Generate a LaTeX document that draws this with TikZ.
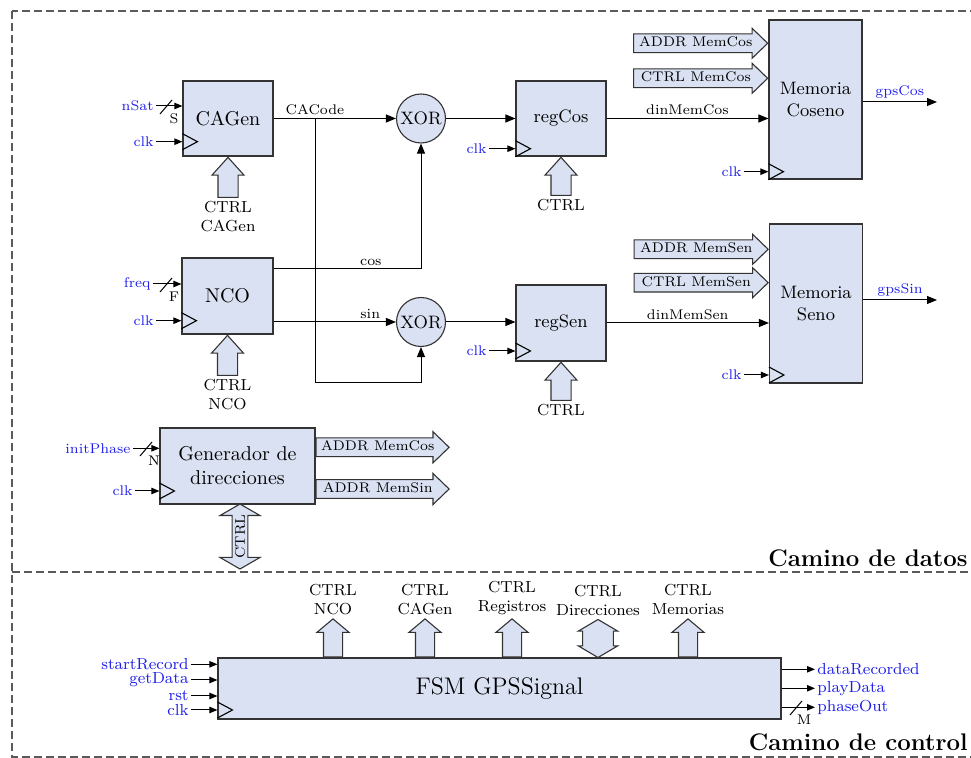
\documentclass[tikz,border=0pt]{standalone}
\usepackage{tikz}
\usetikzlibrary{arrows.meta,shapes.arrows}
\definecolor{blockfill}{RGB}{218,225,242}
\definecolor{sigblue}{RGB}{30,30,235}
\definecolor{framegray}{RGB}{90,90,90}

\begin{document}
\begin{tikzpicture}[x=0.5pt, y=-0.5pt, every node/.style={font=\scriptsize},
  block/.style={draw=black!80, fill=blockfill, line width=0.55pt, align=center, inner sep=0pt},
  xorgate/.style={circle, draw=black!80, fill=blockfill, line width=0.55pt, minimum size=24.5pt, inner sep=0pt, font=\small},
  sig/.style={-{Triangle[length=4pt,width=3.2pt]}, line width=0.5pt},
  dat/.style={-{Triangle[length=5pt,width=4pt]}, line width=0.5pt},
  inlbl/.style={text=sigblue, anchor=east, inner sep=1pt},
  outlbl/.style={text=sigblue, anchor=west, inner sep=1pt, font=\footnotesize},
  lbl/.style={inner sep=1.5pt},
  ctllbl/.style={inner sep=1.5pt, align=center, font=\footnotesize},
  busr/.style={single arrow, draw=black!80, fill=blockfill, line width=0.55pt, single arrow head extend=2.8pt, single arrow tip angle=88, minimum width=14.5pt, minimum height=67pt, inner xsep=0pt, inner ysep=1.4pt, text height=4.8pt, text depth=1.2pt},
  busup/.style={single arrow, rotate=90, draw=black!80, fill=blockfill, line width=0.55pt, single arrow head extend=3pt, single arrow tip angle=84, minimum width=15.5pt, minimum height=20pt, inner xsep=0pt, inner ysep=4.75pt},
  fsmup/.style={busup, single arrow head extend=3.25pt, single arrow tip angle=100, minimum height=19pt, inner ysep=4.5pt},
  dbus/.style={double arrow, rotate=90, draw=black!80, fill=blockfill, line width=0.55pt, double arrow head extend=6pt, double arrow tip angle=120, minimum width=20pt, minimum height=32.5pt, inner xsep=0.5pt, inner ysep=1.2pt, text height=4.8pt, text depth=0pt},
  dashframe/.style={draw=framegray, line width=0.6pt, dash pattern=on 4pt off 2pt},
  clock/.pic={\draw[line width=0.55pt] (0,-8) -- (15,0) -- (0,8);},
  buswidth/.pic={\draw[line width=0.5pt] (-6,7) -- (6,-7); \node[inner sep=0pt] at (8,12) {\tikzpictext};}]
\useasboundingbox (0,0) rectangle (971,758);

% frame
\draw[dashframe] (12,11) rectangle (985,757);
\draw[dashframe] (12,572) -- (968,572);
\node[font=\large\bfseries, anchor=base east, inner sep=0pt] (datos) at (968,567) {Camino de datos};
\node[font=\large\bfseries, anchor=base east, inner sep=0pt] (control) at (968,751) {Camino de control};

% blocks
\node[block, minimum width=45pt, minimum height=37.5pt, font=\normalsize] (cagen) at (228,118.5) {CAGen};
\node[block, minimum width=45.5pt, minimum height=38pt, font=\normalsize] (nco) at (227.5,296) {NCO};
\node[block, minimum width=45pt, minimum height=37.5pt, font=\small] (regcos) at (561,118.5) {regCos};
\node[block, minimum width=45pt, minimum height=38pt, font=\small] (regsen) at (561,323) {regSen};
\node[block, minimum width=46.5pt, minimum height=79.5pt, font=\small] (memcos) at (815.5,99.5) {Memoria\\Coseno};
\node[block, minimum width=46.5pt, minimum height=79.5pt, font=\small] (memsen) at (816,303.5) {Memoria\\Seno};
\node[block, minimum width=77.5pt, minimum height=38pt, font=\normalsize] (gen) at (237.5,466) {Generador de\\direcciones};
\node[block, minimum width=281.5pt, minimum height=30.5pt, font=\large] (fsm) at (499.5,688.5) {FSM GPSSignal};
\node[xorgate] (xor1) at (421,118.5) {XOR};
\node[xorgate] (xor2) at (421,322) {XOR};

% inputs
\node[inlbl] (nsat) at (156,106) {nSat};
\draw[sig] (nsat.east) -- (nsat -| cagen.west);
\pic[pic text=S] at (166,107) {buswidth};
\node[inlbl] (clka) at (156,141.7) {clk};
\draw[sig] (clka.east) -- (clka -| cagen.west);
\pic at (clka -| cagen.west) {clock};
\node[inlbl] (freq) at (153,284) {freq};
\draw[sig] (freq.east) -- (freq -| nco.west);
\pic[pic text=F] at (166,285) {buswidth};
\node[inlbl] (clkb) at (156,320.7) {clk};
\draw[sig] (clkb.east) -- (clkb -| nco.west);
\pic at (clkb -| nco.west) {clock};
\node[inlbl] (clkc) at (489,148.7) {clk};
\draw[sig] (clkc.east) -- (clkc -| regcos.west);
\pic at (clkc -| regcos.west) {clock};
\node[inlbl] (clkd) at (489,351) {clk};
\draw[sig] (clkd.east) -- (clkd -| regsen.west);
\pic at (clkd -| regsen.west) {clock};
\node[inlbl] (clke) at (744,171.7) {clk};
\draw[sig] (clke.east) -- (clke -| memcos.west);
\pic at (clke -| memcos.west) {clock};
\node[inlbl] (clkf) at (744,375) {clk};
\draw[sig] (clkf.east) -- (clkf -| memsen.west);
\pic at (clkf -| memsen.west) {clock};
\node[inlbl] (phase) at (133,448.3) {initPhase};
\draw[sig] (phase.east) -- (phase -| gen.west);
\pic[pic text=N] at (146,449) {buswidth};
\node[inlbl] (clkg) at (135,491) {clk};
\draw[sig] (clkg.east) -- (clkg -| gen.west);
\pic at (clkg -| gen.west) {clock};

% data path
\coordinate (cabr) at (315,118.5);
\coordinate (cabot) at (315,383);
\draw[dat] (cagen.east) -- (xor1.west);
\node[lbl, anchor=south] (cacode) at (cabr) {CACode};
\draw[dat] (cabr) -- (cabot) -| (xor2.south);
\coordinate (cosout) at (nco.east |- 0,269);
\draw[dat] (cosout) -| node[lbl, above, pos=0.33] {cos} (xor1.south);
\draw[dat] (nco.east |- xor2) -- node[lbl, above, pos=0.79] {sin} (xor2.west);
\draw[dat] (xor1.east) -- (regcos.west |- xor1);
\draw[dat] (xor2.east) -- (regsen.west |- xor2);
\draw[dat] (regcos.east) -- node[lbl, above] {dinMemCos} (memcos.west |- regcos.east);
\draw[dat] (regsen.east) -- node[lbl, above] {dinMemSen} (memsen.west |- regsen.east);
\coordinate (gpscos) at (937,102);
\coordinate (gpssin) at (937,300);
\draw[dat] (memcos.east |- gpscos) -- node[lbl, above, text=sigblue] {gpsCos} (gpscos);
\draw[dat] (memsen.east |- gpssin) -- node[lbl, above, text=sigblue] {gpsSin} (gpssin);

% control buses
\node[busup, anchor=tip] (ctlcagen) at (cagen.south) {};
\node[ctllbl, anchor=north] (ctlcagenl) at (ctlcagen.tail) {CTRL\\CAGen};
\node[busup, anchor=tip] (ctlnco) at (nco.south) {};
\node[ctllbl, anchor=north] (ctlncol) at (ctlnco.tail) {CTRL\\NCO};
\node[busup, anchor=tip, minimum height=19pt] (ctlregcos) at (regcos.south) {};
\node[ctllbl, anchor=north] (ctlregcosl) at (ctlregcos.tail) {CTRL};
\node[busup, anchor=tip, minimum height=19pt] (ctlregsen) at (regsen.south) {};
\node[ctllbl, anchor=north] (ctlregsenl) at (ctlregsen.tail) {CTRL};
\node[busr, anchor=tip] (addrcos) at (memcos.west |- 0,43.3) {ADDR MemCos};
\node[busr, anchor=tip] (ctrlcos) at (memcos.west |- 0,78.3) {CTRL MemCos};
\node[busr, anchor=tip] (addrsen) at (memsen.west |- 0,249.3) {ADDR MemSen};
\node[busr, anchor=tip] (ctrlsen) at (memsen.west |- 0,282.7) {CTRL MemSen};
\node[busr, anchor=tail, minimum height=66.5pt, minimum width=15pt, single arrow head extend=3.1pt] (genaddrcos) at (gen.east |- 0,447.3) {ADDR MemCos};
\node[busr, anchor=tail, minimum height=66.5pt, minimum width=15pt, single arrow head extend=3.1pt] (genaddrsin) at (gen.east |- 0,489) {ADDR MemSin};
\node[dbus] (genctl) at (240,536.5) {CTRL};

% FSM
\node[inlbl, font=\footnotesize] (start) at (191,664.3) {startRecord};
\draw[sig] (start.east) -- (start -| fsm.west);
\node[inlbl, font=\footnotesize] (getdata) at (191,680) {getData};
\draw[sig] (getdata.east) -- (getdata -| fsm.west);
\node[inlbl, font=\footnotesize] (rst) at (191,696) {rst};
\draw[sig] (rst.east) -- (rst -| fsm.west);
\node[inlbl, font=\footnotesize] (clkh) at (191,710) {clk};
\draw[sig] (clkh.east) -- (clkh -| fsm.west);
\pic at (clkh -| fsm.west) {clock};
\node[outlbl] (drec) at (815,669.3) {dataRecorded};
\draw[sig] (drec -| fsm.east) -- (drec.west);
\node[outlbl] (play) at (815,688.3) {playData};
\draw[sig] (play -| fsm.east) -- (play.west);
\node[outlbl] (phout) at (815,707.3) {phaseOut};
\draw[sig] (phout -| fsm.east) -- (phout.west);
\pic[pic text=M] at (796,708) {buswidth};

\node[fsmup, anchor=tail] (fnco) at (fsm.north -| 333,0) {};
\node[ctllbl, anchor=south] (fncol) at (fnco.tip) {CTRL\\NCO};
\node[fsmup, anchor=tail] (fcagen) at (fsm.north -| 425,0) {};
\node[ctllbl, anchor=south] (fcagenl) at (fcagen.tip) {CTRL\\CAGen};
\node[fsmup, anchor=tail] (freg) at (fsm.north -| 512,0) {};
\node[ctllbl, anchor=south] (fregl) at (freg.tip) {CTRL\\Registros};
\node[dbus, minimum height=19pt, minimum width=14.5pt, inner ysep=5pt, double arrow head extend=2.25pt, double arrow tip angle=119] (fdir) at (598,638.5) {};
\node[ctllbl, anchor=south] (fdirl) at (598,619) {CTRL\\Direcciones};
\node[fsmup, anchor=tail] (fmem) at (fsm.north -| 688,0) {};
\node[ctllbl, anchor=south] (fmeml) at (fmem.tip) {CTRL\\Memorias};
\end{tikzpicture}
\end{document}
